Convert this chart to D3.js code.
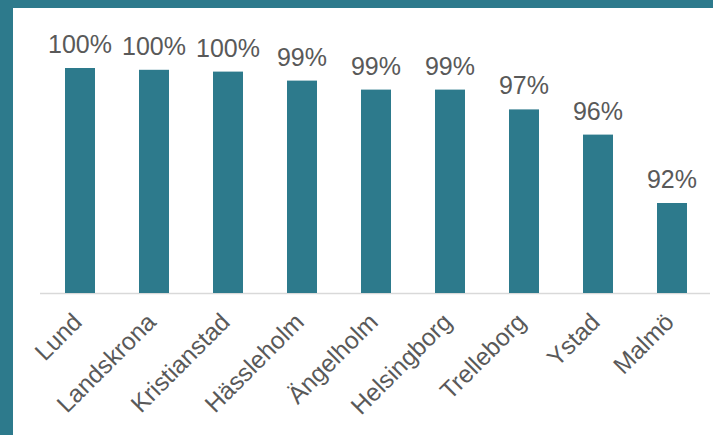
<!DOCTYPE html>
<html><head><meta charset="utf-8">
<script src="https://cdn.jsdelivr.net/npm/d3@7/dist/d3.min.js"></script>
<style>body{margin:0;background:#fff;}svg{display:block;}</style>
</head><body>
<svg id="c" width="713" height="435"></svg>
<script>
const categories = ["Lund","Landskrona","Kristianstad","Hässleholm","Ängelholm","Helsingborg","Trelleborg","Ystad","Malmö"];
const values = [99.8, 99.7, 99.6, 99.1, 98.6, 98.6, 97.5, 96.1, 92.3];
const labels = ["100%","100%","100%","99%","99%","99%","97%","96%","92%"];

const svg = d3.select("#c");
const W = 713, H = 435;
const teal = "#2d7a8c";
svg.append("rect").attr("width", W).attr("height", H).attr("fill", "#fff");
svg.append("rect").attr("x",0).attr("y",0).attr("width",W).attr("height",8).attr("fill",teal);
svg.append("rect").attr("x",0).attr("y",0).attr("width",13).attr("height",H).attr("fill",teal);

const x = d3.scaleBand().domain(categories).range([43, 709]).paddingInner(0.6).paddingOuter(0.3);
const base = 293;
const y = d3.scaleLinear().domain([87.3, 100]).range([base, base - 12.7*18]);

svg.append("line").attr("x1",40).attr("x2",710).attr("y1",base+0.5).attr("y2",base+0.5)
  .attr("stroke","#d9d9d9").attr("stroke-width",1.5);

const bw = 30;
svg.selectAll("rect.bar").data(categories).enter().append("rect")
  .attr("class","bar")
  .attr("x", d => x(d) + x.bandwidth()/2 - bw/2)
  .attr("width", bw)
  .attr("y", (d,i) => y(values[i]))
  .attr("height", (d,i) => base - y(values[i]))
  .attr("fill", teal);

svg.selectAll("text.val").data(categories).enter().append("text")
  .attr("class","val")
  .attr("x", d => x(d) + x.bandwidth()/2)
  .attr("y", (d,i) => y(values[i]) - 15)
  .attr("text-anchor","middle")
  .attr("font-family","Liberation Sans, Arial, sans-serif")
  .attr("font-size", 25)
  .attr("fill","#595959")
  .text((d,i) => labels[i]);

svg.selectAll("text.cat").data(categories).enter().append("text")
  .attr("class","cat")
  .attr("transform", d => `translate(${x(d) + x.bandwidth()/2 + 3.5},${base + 30.5}) rotate(-45)`)
  .attr("text-anchor","end")
  .attr("font-family","Liberation Sans, Arial, sans-serif")
  .attr("font-size", 24.5)
  .attr("fill","#595959")
  .text(d => d);
</script>
</body></html>
